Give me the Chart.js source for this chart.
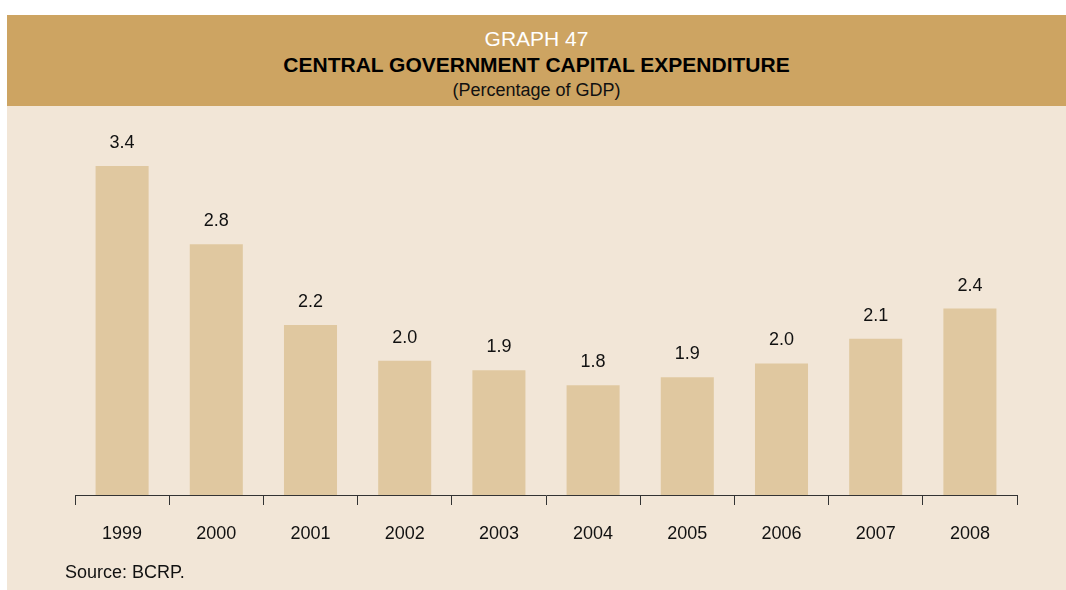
<!DOCTYPE html>
<html>
<head>
<meta charset="utf-8">
<script src="https://cdn.jsdelivr.net/npm/chart.js@4"></script>
<style>
  body { margin: 0; background: #fff; font-family: "Liberation Sans", Arial, sans-serif; }
  #panel { position: absolute; left: 7px; top: 15px; width: 1059px; height: 575px; background: #F2E6D7; }
  #head { position: absolute; left: 0; top: 0; width: 1059px; height: 91px; background: #CDA462; text-align: center; }
  #head .num { position: absolute; top: 12px; width: 100%; font-size: 21px; color: #fff; }
  #head .ttl { position: absolute; top: 38px; width: 100%; font-size: 21px; font-weight: bold; color: #000; }
  #head .sub { position: absolute; top: 65px; width: 100%; font-size: 18px; color: #111; }
  #wrap { position: absolute; left: 0; top: 91px; width: 1059px; height: 484px; }
  #source { position: absolute; left: 58px; top: 547px; font-size: 18px; color: #111; }
</style>
</head>
<body>
<div id="panel">
  <div id="head">
    <div class="num">GRAPH 47</div>
    <div class="ttl">CENTRAL GOVERNMENT CAPITAL EXPENDITURE</div>
    <div class="sub">(Percentage of GDP)</div>
  </div>
  <div id="wrap"><canvas id="chart" width="1059" height="484"></canvas></div>
  <div id="source">Source: BCRP.</div>
</div>
<script>
// years on the x axis
const years = ['1999', '2000', '2001', '2002', '2003', '2004', '2005', '2006', '2007', '2008']
// capital expenditure, % of GDP
const expenditure = [3.40, 2.83, 2.24, 1.98, 1.91, 1.80, 1.86, 1.96, 2.14, 2.36]

// draws the value above each bar
const valueLabels = {
  id: 'valueLabels',
  afterDatasetsDraw(chart) {
    const ctx = chart.ctx
    const meta = chart.getDatasetMeta(0)
    ctx.save()
    ctx.font = '18px "Liberation Sans", Arial, sans-serif'
    ctx.fillStyle = '#111'
    ctx.textAlign = 'center'
    ctx.textBaseline = 'middle'
    meta.data.forEach((bar, i) => {
      ctx.fillText(expenditure[i].toFixed(1), bar.x, bar.y - 23)
    })
    ctx.restore()
  }
}

const ctx = document.getElementById('chart').getContext('2d')
new Chart(ctx, {
  type: 'bar',
  data: {
    labels: years,
    datasets: [{
      data: expenditure,
      backgroundColor: '#E0C8A0',
      barPercentage: 0.563,
      categoryPercentage: 1
    }]
  },
  options: {
    responsive: false,
    animation: false,
    layout: { padding: { left: 68, right: 49, top: 8, bottom: 40 } },
    plugins: { legend: { display: false }, tooltip: { enabled: false } },
    scales: {
      x: {
        afterFit: (axis) => { axis.height = 55 },
        grid: { display: true, drawOnChartArea: false, offset: true, tickLength: 10, color: '#333' },
        border: { display: true, color: '#333', width: 1 },
        ticks: { padding: 18, color: '#111', font: { family: '"Liberation Sans", Arial, sans-serif', size: 18 } }
      },
      y: { display: false, min: 1, max: 3.78 }
    }
  },
  plugins: [valueLabels]
})
</script>
</body>
</html>
